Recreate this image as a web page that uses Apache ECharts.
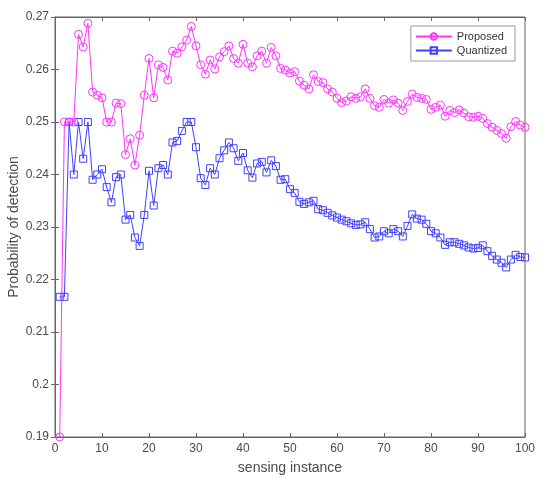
<!DOCTYPE html>
<html>
<head>
<meta charset="utf-8">
<script src="https://cdn.jsdelivr.net/npm/echarts@6/dist/echarts.min.js"></script>
<style>
html,body{margin:0;padding:0;background:#fff;}
#chart{width:550px;height:480px;}
</style>
</head>
<body>
<div id="chart"></div>
<script>
const seriesNames = ['Proposed', 'Quantized'];
const proposed = [
0.190,0.250,0.250,0.250,0.2667,0.2643,0.2688,0.2557,0.2551,0.2546,
0.2500,0.2500,0.2536,0.2535,0.2438,0.2468,0.2418,0.2475,0.2551,0.2621,
0.2546,0.2609,0.2604,0.2580,0.2635,0.2631,0.2643,0.2656,0.2682,0.2645,
0.2609,0.2591,0.2618,0.2601,0.2624,0.2634,0.2645,0.2621,0.2612,0.2648,
0.2612,0.2605,0.2626,0.2635,0.2612,0.2642,0.2626,0.2602,0.2599,0.2593,
0.2596,0.2578,0.2570,0.2563,0.2590,0.2577,0.2575,0.2563,0.2557,0.2545,
0.2537,0.2540,0.2548,0.2545,0.2548,0.2563,0.2545,0.2531,0.2528,0.2543,
0.2536,0.2542,0.2536,0.2522,0.2539,0.2553,0.2547,0.2545,0.2543,0.2524,
0.2528,0.2532,0.2511,0.2522,0.2518,0.2523,0.2517,0.2510,0.2509,0.2511,
0.2507,0.2497,0.2490,0.2484,0.2478,0.2469,0.2491,0.2501,0.2494,0.2490
];
const quantized = [
0.2167,0.2167,0.2500,0.2400,0.2500,0.2430,0.2500,0.2390,0.2400,0.2410,
0.2376,0.2347,0.2395,0.2400,0.2314,0.2323,0.2280,0.2264,0.2323,0.2407,
0.2341,0.2412,0.2418,0.2400,0.2461,0.2464,0.2483,0.2500,0.2500,0.2452,
0.2393,0.2380,0.2412,0.2400,0.2431,0.2446,0.2461,0.2450,0.2426,0.2441,
0.2408,0.2394,0.2421,0.2424,0.2404,0.2427,0.2416,0.2390,0.2391,0.2372,
0.2365,0.2348,0.2344,0.2347,0.2350,0.2334,0.2332,0.2327,0.2322,0.2318,
0.2314,0.2311,0.2307,0.2304,0.2305,0.2309,0.2296,0.2280,0.2282,0.2292,
0.2288,0.2296,0.2292,0.2282,0.2302,0.2324,0.2316,0.2314,0.2306,0.2292,
0.2288,0.2280,0.2266,0.2271,0.2271,0.2268,0.2265,0.2261,0.2259,0.2260,
0.2265,0.2254,0.2245,0.2238,0.2232,0.2223,0.2238,0.2247,0.2243,0.2242
];
const xTicks = [0,10,20,30,40,50,60,70,80,90,100];
const yTicks = [0.19,0.2,0.21,0.22,0.23,0.24,0.25,0.26,0.27];

const toPairs = arr => arr.map((v, i) => [i + 1, v]);
const axisColor = '#666';
const labelColor = '#4a4a4a';
const font = 'Liberation Sans, Arial, sans-serif';
const magenta = '#ff33ff';
const blue = '#4040ff';

const chart = echarts.init(document.getElementById('chart'), null, {renderer: 'canvas'});
chart.setOption({
  backgroundColor: '#fff',
  animation: false,
  grid: {left: 55, right: 25, top: 17, bottom: 43, containLabel: false, outerBoundsMode: 'none',
    show: true, borderColor: axisColor, borderWidth: 1},
  legend: {
    data: seriesNames,
    right: 35, top: 26,
    orient: 'vertical',
    itemWidth: 36, itemHeight: 8, itemGap: 3,
    padding: [5, 8, 5, 4],
    borderColor: '#999', borderWidth: 1,
    backgroundColor: '#fff',
    textStyle: {fontFamily: font, fontSize: 11, color: '#333'}
  },
  xAxis: [{
    type: 'value', min: xTicks[0], max: xTicks[xTicks.length - 1], interval: 10,
    name: 'sensing instance', nameLocation: 'middle', nameGap: 24, nameMoveOverlap: false,
    nameTextStyle: {fontFamily: font, fontSize: 14, color: labelColor},
    axisLine: {lineStyle: {color: axisColor}},
    axisTick: {inside: true, length: 4, lineStyle: {color: axisColor}},
    axisLabel: {fontFamily: font, fontSize: 12, color: labelColor, margin: 6},
    splitLine: {show: false}
  }, {
    type: 'value', position: 'top', min: xTicks[0], max: xTicks[xTicks.length - 1], interval: 10,
    axisLine: {lineStyle: {color: axisColor}},
    axisTick: {inside: true, length: 4, lineStyle: {color: axisColor}},
    axisLabel: {show: false}, splitLine: {show: false}
  }],
  yAxis: [{
    type: 'value', min: yTicks[0], max: yTicks[yTicks.length - 1], interval: 0.01,
    name: 'Probability of detection', nameLocation: 'middle', nameGap: 34, nameMoveOverlap: false,
    nameTextStyle: {fontFamily: font, fontSize: 14, color: labelColor},
    axisLine: {lineStyle: {color: axisColor}},
    axisTick: {inside: true, length: 4, lineStyle: {color: axisColor}},
    axisLabel: {fontFamily: font, fontSize: 12, color: labelColor, margin: 6,
      formatter: v => String(+(+v).toFixed(2))},
    splitLine: {show: false}
  }, {
    type: 'value', position: 'right', min: yTicks[0], max: yTicks[yTicks.length - 1], interval: 0.01,
    axisLine: {lineStyle: {color: axisColor}},
    axisTick: {inside: true, length: 4, lineStyle: {color: axisColor}},
    axisLabel: {show: false}, splitLine: {show: false}
  }],
  series: [{
    name: seriesNames[0], type: 'line', data: toPairs(proposed),
    symbol: 'circle', symbolSize: 8,
    lineStyle: {color: magenta, width: 1},
    itemStyle: {color: 'rgba(255,255,255,0)', borderColor: magenta, borderWidth: 1},
    z: 3
  }, {
    name: seriesNames[1], type: 'line', data: toPairs(quantized),
    symbol: 'rect', symbolSize: 7,
    lineStyle: {color: blue, width: 1},
    itemStyle: {color: 'rgba(255,255,255,0)', borderColor: blue, borderWidth: 1},
    z: 2
  }]
});
</script>
</body>
</html>
